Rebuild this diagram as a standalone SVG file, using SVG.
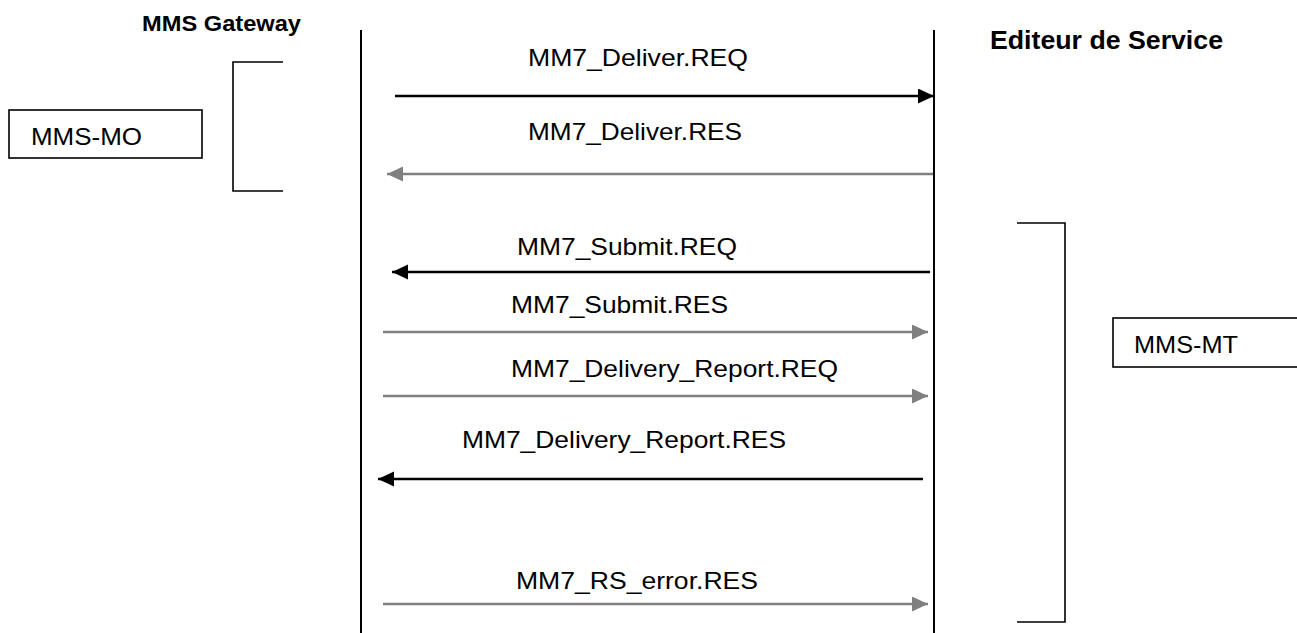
<svg xmlns="http://www.w3.org/2000/svg" width="1297" height="633" viewBox="0 0 1297 633">
<style>
.lbl{font-family:"Liberation Sans",Arial,sans-serif;font-size:24.5px;fill:#000}
.ttl{font-family:"Liberation Sans",Arial,sans-serif;font-weight:bold;fill:#000}
.life{stroke:#000;stroke-width:2;fill:none}
.brk{stroke:#000;stroke-width:1.6;fill:none}
.box{stroke:#000;stroke-width:1.6;fill:#fff}
.ab{stroke:#000;stroke-width:2.4;fill:none;marker-end:url(#hb)}
.ag{stroke:#808080;stroke-width:2.4;fill:none;marker-end:url(#hg)}
</style>
<defs>
<marker id="hb" markerUnits="userSpaceOnUse" markerWidth="17" markerHeight="16" refX="16" refY="7.5" orient="auto"><path d="M0,0 L16,7.5 L0,15 z" fill="#000"/></marker>
<marker id="hg" markerUnits="userSpaceOnUse" markerWidth="17" markerHeight="16" refX="16" refY="7.5" orient="auto"><path d="M0,0 L16,7.5 L0,15 z" fill="#808080"/></marker>
</defs>
<rect width="1297" height="633" fill="#fff"/>
<g id="mms-gateway">
<text class="ttl" x="142" y="31" font-size="22.5" textLength="159" lengthAdjust="spacingAndGlyphs">MMS Gateway</text>
<line class="life" x1="361" y1="30" x2="361" y2="633"/>
</g>
<g id="editeur-de-service">
<text class="ttl" x="990" y="49" font-size="26.5" textLength="233" lengthAdjust="spacingAndGlyphs">Editeur de Service</text>
<line class="life" x1="934" y1="30" x2="934" y2="633"/>
</g>
<g id="mms-mo">
<rect class="box" x="9" y="110" width="193" height="48"/>
<text class="lbl" x="31" y="145" font-size="25" textLength="111" lengthAdjust="spacingAndGlyphs">MMS-MO</text>
<polyline class="brk" points="283,62 233,62 233,191 283,191"/>
</g>
<g id="mms-mt">
<polyline class="brk" points="1017,223 1065,223 1065,622 1017,622"/>
<rect class="box" x="1113" y="318" width="195" height="49"/>
<text class="lbl" x="1134" y="353" textLength="104" lengthAdjust="spacingAndGlyphs">MMS-MT</text>
</g>
<g id="connectors">
<line class="ab" x1="395" y1="96" x2="934" y2="96"/>
<text class="lbl" x="528" y="66" textLength="220" lengthAdjust="spacingAndGlyphs">MM7_Deliver.REQ</text>
<line class="ag" x1="933" y1="174" x2="387" y2="174"/>
<text class="lbl" x="528" y="140" textLength="214" lengthAdjust="spacingAndGlyphs">MM7_Deliver.RES</text>
<line class="ab" x1="930" y1="272" x2="392" y2="272"/>
<text class="lbl" x="517" y="255" textLength="220" lengthAdjust="spacingAndGlyphs">MM7_Submit.REQ</text>
<line class="ag" x1="383" y1="332" x2="928" y2="332"/>
<text class="lbl" x="511" y="313" textLength="217" lengthAdjust="spacingAndGlyphs">MM7_Submit.RES</text>
<line class="ag" x1="383" y1="396" x2="928" y2="396"/>
<text class="lbl" x="511" y="377" textLength="327" lengthAdjust="spacingAndGlyphs">MM7_Delivery_Report.REQ</text>
<line class="ab" x1="923" y1="479" x2="378" y2="479"/>
<text class="lbl" x="462" y="448" textLength="324" lengthAdjust="spacingAndGlyphs">MM7_Delivery_Report.RES</text>
<line class="ag" x1="383" y1="604" x2="928" y2="604"/>
<text class="lbl" x="516" y="589" textLength="242" lengthAdjust="spacingAndGlyphs">MM7_RS_error.RES</text>
</g>
</svg>
